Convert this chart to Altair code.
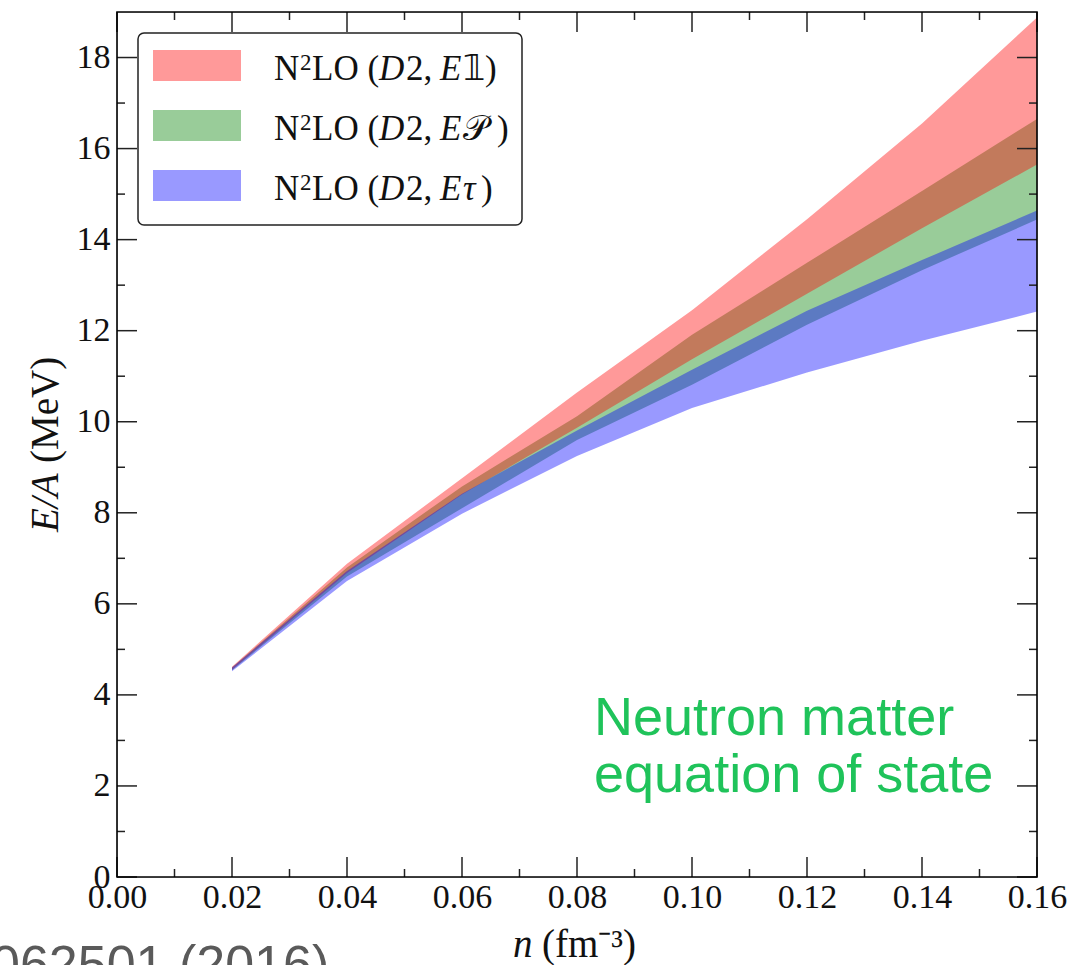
import altair as alt
import pandas as pd

# ---------------- data ----------------
n = [0.02, 0.04, 0.06, 0.08, 0.10, 0.12, 0.14, 0.16]

red_lo = [4.55, 6.68, 8.40, 9.87, 11.37, 12.81, 14.25, 15.65]
red_hi = [4.62, 6.88, 8.76, 10.64, 12.45, 14.45, 16.55, 18.88]

green_lo = [4.54, 6.60, 8.10, 9.60, 10.81, 12.13, 13.33, 14.44]
green_hi = [4.60, 6.80, 8.58, 10.12, 11.91, 13.49, 15.07, 16.65]

blue_lo = [4.52, 6.50, 7.98, 9.25, 10.30, 11.08, 11.78, 12.42]
blue_hi = [4.60, 6.72, 8.42, 9.81, 11.14, 12.44, 13.55, 14.64]

x_major = [0.00, 0.02, 0.04, 0.06, 0.08, 0.10, 0.12, 0.14, 0.16]
x_minor = [0.01, 0.03, 0.05, 0.07, 0.09, 0.11, 0.13, 0.15]
y_major = [0, 2, 4, 6, 8, 10, 12, 14, 16, 18]
y_minor = [1, 3, 5, 7, 9, 11, 13, 15, 17]

series_symbols = ["𝟙", "𝒫", "τ"]
series_colors = ["#ff0000", "#008000", "#0000ff"]

W, H = 920, 865
SERIF = "Liberation Serif"
SANS = "Liberation Sans"
INK = "#111111"

xs = alt.Scale(domain=[0, 0.16], nice=False, zero=False)
ys = alt.Scale(domain=[0, 19], nice=False, zero=False)

x_axis = alt.Axis(values=x_major, format=".2f", title=None, ticks=False, domain=False,
                  grid=False, labelFont=SERIF, labelFontSize=34, labelColor=INK,
                  labelPadding=3, labelFlush=False)
y_axis = alt.Axis(values=y_major, format="d", title=None, ticks=False, domain=False,
                  grid=False, labelFont=SERIF, labelFontSize=34, labelColor=INK,
                  labelPadding=7, labelFlush=False)


def band(lo, hi, color):
    df = pd.DataFrame({"n": n, "lo": lo, "hi": hi})
    return alt.Chart(df).mark_area(color=color, opacity=0.4, interpolate="linear").encode(
        x=alt.X("n:Q", scale=xs, axis=x_axis),
        y=alt.Y("lo:Q", scale=ys, axis=y_axis),
        y2="hi:Q",
    )


def one():
    return pd.DataFrame({"k": [0]})


def tick_rules(vals, side, length):
    base = alt.Chart(pd.DataFrame({"v": vals})).mark_rule(color="#222222", strokeWidth=1.5)
    if side == "left":
        return base.encode(y=alt.Y("v:Q", scale=ys, axis=y_axis), x=alt.value(0), x2=alt.value(length))
    if side == "right":
        return base.encode(y=alt.Y("v:Q", scale=ys, axis=y_axis), x=alt.value(W - length), x2=alt.value(W))
    if side == "bottom":
        return base.encode(x=alt.X("v:Q", scale=xs, axis=x_axis), y=alt.value(H - length), y2=alt.value(H))
    return base.encode(x=alt.X("v:Q", scale=xs, axis=x_axis), y=alt.value(0), y2=alt.value(length))


def txt(t, x, y, size, style="normal", font=SERIF, color=INK, angle=0, align="left"):
    return alt.Chart(pd.DataFrame({"t": [t]})).mark_text(
        align=align, baseline="alphabetic", font=font, fontSize=size, fontStyle=style,
        color=color, angle=angle,
    ).encode(x=alt.value(x), y=alt.value(y), text="t:N")


layers = [
    band(green_lo, green_hi, series_colors[1]),
    band(red_lo, red_hi, series_colors[0]),
    band(blue_lo, blue_hi, series_colors[2]),
]

for side in ["left", "right"]:
    layers.append(tick_rules(y_major, side, 20))
    layers.append(tick_rules(y_minor, side, 8))
for side in ["top", "bottom"]:
    layers.append(tick_rules(x_major, side, 20))
    layers.append(tick_rules(x_minor, side, 8))

# plot frame
layers.append(alt.Chart(one()).mark_rect(fill="white", fillOpacity=0, stroke="black", strokeWidth=1.6).encode(
    x=alt.value(0), x2=alt.value(W), y=alt.value(0), y2=alt.value(H)))

# legend box
layers.append(alt.Chart(one()).mark_rect(fill="white", stroke="#222222", strokeWidth=1.5, cornerRadius=6).encode(
    x=alt.value(21), x2=alt.value(405), y=alt.value(21), y2=alt.value(213)))

LS = 35
row_tops = [38, 98, 158]
row_base = [68, 128, 188]
close_x = [368, 380, 364]
for i in range(3):
    layers.append(alt.Chart(one()).mark_rect(fill=series_colors[i], fillOpacity=0.4).encode(
        x=alt.value(36), x2=alt.value(124), y=alt.value(row_tops[i]), y2=alt.value(row_tops[i] + 31)))
    yb = row_base[i]
    layers.append(txt("N", 157, yb, LS))
    layers.append(txt("2", 183, yb - 10, 23))
    layers.append(txt("LO (", 195, yb, LS))
    layers.append(txt("D", 262, yb, LS, style="italic"))
    layers.append(txt("2,", 289, yb, LS))
    layers.append(txt("E", 323, yb, LS, style="italic"))
    if i == 0:
        layers.append(txt(series_symbols[i], 346, yb, LS, font="DejaVu Sans"))
    elif i == 1:
        layers.append(txt(series_symbols[i], 346, yb, LS))
    else:
        layers.append(txt(series_symbols[i], 346, yb, LS, style="italic"))
    layers.append(txt(")", close_x[i], yb, LS))

# axis titles
TS = 39
layers.append(txt("E/A", -59, 520, TS, style="italic", angle=270))
layers.append(txt("(MeV)", -59, 451, TS, angle=270))
layers.append(txt("n", 396, 945, TS, style="italic"))
layers.append(txt("(fm⁻³)", 425, 945, TS))

# annotations
GREEN = "#1fc35a"
layers.append(txt("Neutron matter", 477, 723, 54, font=SANS, color=GREEN))
layers.append(txt("equation of state", 477, 780, 54, font=SANS, color=GREEN))
layers.append(txt("062501 (2016)", -126, 970, 52, font=SANS, color="#5a5a5a"))

chart = alt.layer(*layers).properties(
    width=W, height=H,
    autosize=alt.AutoSizeParams(type="none"),
    padding={"left": 117, "top": 12, "right": 48, "bottom": 88},
).configure_view(stroke=None).configure(background="white")

chart.save("out.html", embed_options={"renderer": "svg", "actions": False})
